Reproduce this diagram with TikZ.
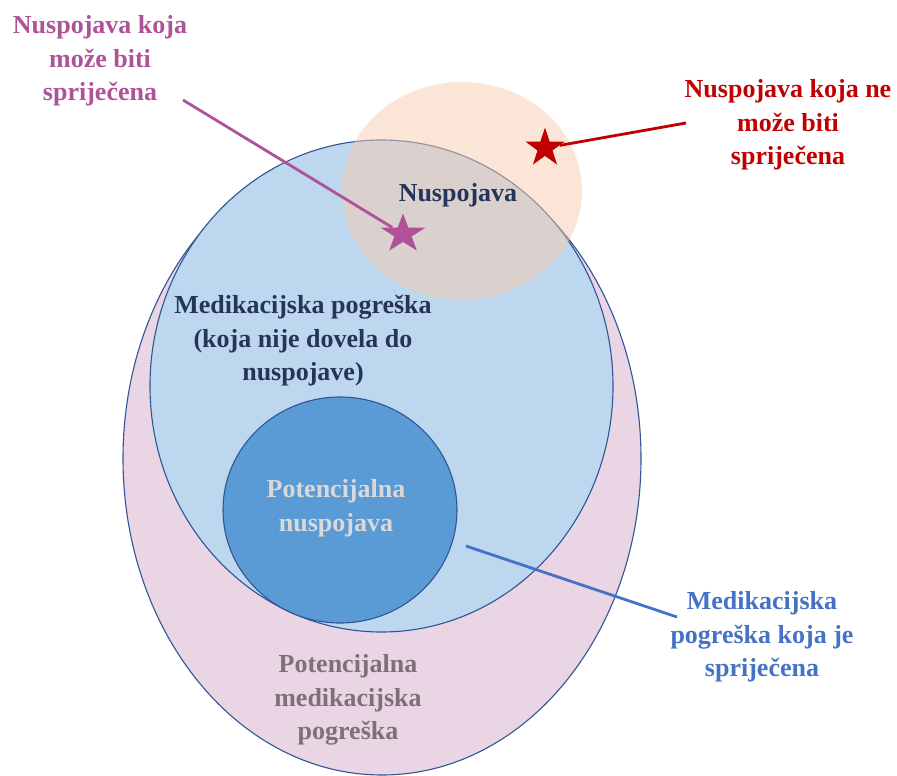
\documentclass[tikz,border=0pt]{standalone}
\usepackage{fontspec}
\setmainfont{Liberation Serif}
\usetikzlibrary{shapes.geometric}

\definecolor{pinkfill}{RGB}{234,213,228}
\definecolor{bluefill}{RGB}{189,215,238}
\definecolor{darkfill}{RGB}{91,155,213}
\definecolor{peachfill}{RGB}{247,203,173}
\definecolor{rimblue}{RGB}{47,85,151}
\definecolor{magline}{RGB}{176,82,152}
\definecolor{redline}{RGB}{192,0,0}
\definecolor{blueline}{RGB}{68,114,196}
\definecolor{navytext}{RGB}{38,52,90}
\definecolor{greytext}{RGB}{125,112,118}
\definecolor{palegrey}{RGB}{217,217,217}

\begin{document}
\begin{tikzpicture}[x=1pt,y=-1pt]
  \tikzset{set/.style = {shape=ellipse,draw=rimblue,line width=1.1pt,inner sep=0pt}}
  \tikzset{lbl/.style = {font=\bfseries\fontsize{26}{33.5}\selectfont,align=center}}
  \tikzset{markstar/.style = {shape=star,star points=5,star point ratio=2.6,inner sep=0pt,minimum size=41pt}}
  \tikzset{link/.style = {line width=2.8pt}}
  \useasboundingbox (0,0) rectangle (897,776);

  % sets
  \node[set,fill=pinkfill,minimum width=518pt,minimum height=633pt] (pme) at (382,458.5) {};
  \node[set,fill=bluefill,minimum width=463pt,minimum height=492pt] (me) at (381.5,386) {};
  \node[set,fill=darkfill,minimum width=234pt,minimum height=226pt] (pn) at (340,510) {};
  \node[shape=ellipse,fill=peachfill,fill opacity=0.5,minimum width=240pt,minimum height=218pt] (adr) at (462,191) {};

  % stars
  \node[markstar,fill=redline] (rs) at (545,148) {};
  \node[markstar,fill=magline,xscale=1.15] (ms) at (403,234) {};

  % free ends of the connectors
  \coordinate (mf) at (183,100);
  \coordinate (rf) at (686,123);
  \coordinate (bf) at (466,546);
  \coordinate (bt) at (677,617);

  \foreach \from/\to/\col in {mf/ms/magline,rf/rs/redline,bf/bt/blueline}
    \draw[link,\col] (\from) -- (\to);

  % labels
  \node[lbl,text=magline] (t1) at (100,61) {Nuspojava koja\\može biti\\spriječena};
  \node[lbl,text=redline] (t2) at (788,125) {Nuspojava koja ne\\može biti\\spriječena};
  \node[lbl,text=navytext] (t3) at (458,195) {Nuspojava};
  \node[lbl,text=navytext] (t4) at (303,341) {Medikacijska pogreška\\(koja nije dovela do\\nuspojave)};
  \node[lbl,text=palegrey] (t5) at (336,508) {Potencijalna\\nuspojava};
  \node[lbl,text=blueline] (t6) at (762,637) {Medikacijska\\pogreška koja je\\spriječena};
  \node[lbl,text=greytext] (t7) at (348,700) {Potencijalna\\medikacijska\\pogreška};
\end{tikzpicture}
\end{document}
